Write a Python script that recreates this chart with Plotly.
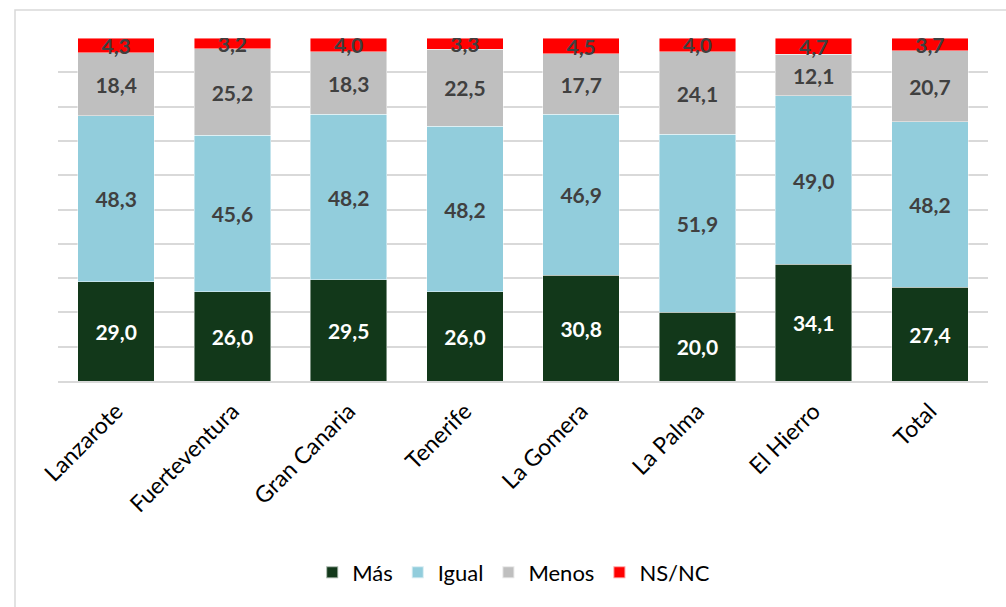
import plotly.graph_objects as go

categories = ["Lanzarote", "Fuerteventura", "Gran Canaria", "Tenerife",
              "La Gomera", "La Palma", "El Hierro", "Total"]
mas = [29.0, 26.0, 29.5, 26.0, 30.8, 20.0, 34.1, 27.4]
igual = [48.3, 45.6, 48.2, 48.2, 46.9, 51.9, 49.0, 48.2]
menos = [18.4, 25.2, 18.3, 22.5, 17.7, 24.1, 12.1, 20.7]
nsnc = [4.3, 3.2, 4.0, 3.3, 4.5, 4.0, 4.7, 3.7]

series = [
    ("Más", mas, "#12381A", "white"),
    ("Igual", igual, "#92CDDC", "#404040"),
    ("Menos", menos, "#BFBFBF", "#404040"),
    ("NS/NC", nsnc, "#FF0000", "#404040"),
]

fig = go.Figure()
for name, vals, color, tcolor in series:
    fig.add_trace(go.Bar(
        name=name, x=categories, y=vals,
        marker=dict(color=color, line=dict(color="rgba(255,255,255,0.6)", width=0.75)),
        text=[f"{v:.1f}".replace(".", ",") for v in vals],
        textposition="inside", insidetextanchor="middle",
        constraintext="none",
        textfont=dict(family="Lato", size=21, color=tcolor, weight="bold"),
    ))

fig.update_layout(
    barmode="stack",
    bargap=0.34,
    width=1006, height=607,
    margin=dict(l=58, r=18, t=38, b=226),
    paper_bgcolor="white", plot_bgcolor="white",
    font=dict(family="Lato", color="black"),
    showlegend=True,
    legend=dict(orientation="h", x=0.49, xanchor="center", y=-0.558, yanchor="middle",
                font=dict(family="Lato", size=22, color="black"),
                itemsizing="constant", traceorder="normal"),
    xaxis=dict(tickangle=-45, tickfont=dict(family="Lato", size=23, color="black"),
               showline=True, linecolor="#D9D9D9", linewidth=1.5,
               ticks="outside", ticklen=6, tickcolor="rgba(0,0,0,0)"),
    yaxis=dict(range=[0, 100], dtick=10, showticklabels=False,
               showgrid=True, gridcolor="#D9D9D9", gridwidth=1.5,
               zeroline=False),
    shapes=[dict(type="rect", xref="paper", yref="paper",
                 x0=(15 - 58) / 930, x1=1.1, y0=-0.8, y1=(381 - 10) / 343,
                 line=dict(color="#D9D9D9", width=1.5), fillcolor="rgba(0,0,0,0)",
                 layer="below")],
)

fig.write_html("out.html", config={"displayModeBar": False},
               post_script="document.body.style.margin='0';")
